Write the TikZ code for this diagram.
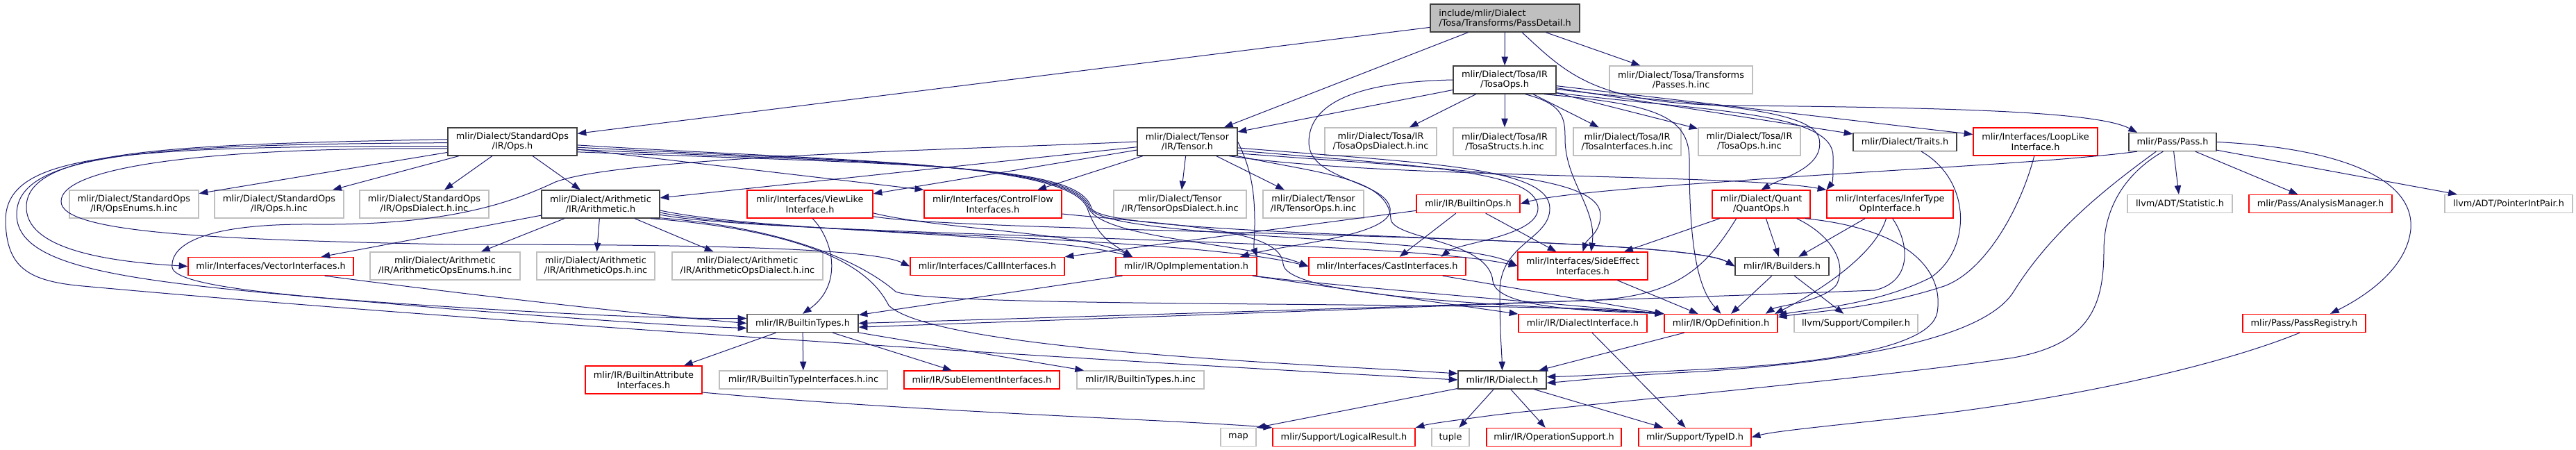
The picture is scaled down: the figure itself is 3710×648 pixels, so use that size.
\documentclass[tikz,border=0pt]{standalone}
\usepackage{fontspec}
\setmainfont{DejaVu Sans}
\usetikzlibrary{arrows.meta}
\definecolor{edgec}{HTML}{191970}
\definecolor{gryc}{HTML}{BFBFBF}
\definecolor{blkc}{HTML}{404040}
\definecolor{redc}{HTML}{FF0000}
\tikzset{
  nd/.style={rectangle, inner sep=0pt, align=center, fill=white, line width=1pt, font=\fontsize{9.65pt}{10.9pt}\selectfont},
  bbox/.style={nd, draw=blkc},
  gbox/.style={nd, draw=gryc},
  rbox/.style={nd, draw=redc},
  sz/.style 2 args={minimum width={#1*0.75pt}, minimum height={#2*0.75pt}},
  ed/.style={draw=edgec, line width=0.75pt, -{Triangle[length=9.5pt,width=7pt]}},
}
\begin{document}
\begin{tikzpicture}[x=0.75pt,y=-0.75pt]
\fill[white] (0,0) rectangle (3710,648);
\useasboundingbox (0,0) rectangle (3710,648);
% row 1
\node[bbox, fill=gryc, align=left, sz={215}{40}] (root) at (2167.5,26) {include/mlir/Dialect\\/Tosa/Transforms/PassDetail.h};
% row 2
\node[bbox, sz={148}{40}] (tosaops) at (2167,115) {mlir/Dialect/Tosa/IR\\/TosaOps.h};
\node[gbox, sz={206}{40}] (passesinc) at (2421,115) {mlir/Dialect/Tosa/Transforms\\/Passes.h.inc};
% row 3
\node[bbox, sz={186}{40}] (ops) at (738,204) {mlir/Dialect/StandardOps\\/IR/Ops.h};
\node[bbox, sz={144}{40}] (tensor) at (1710,204) {mlir/Dialect/Tensor\\/IR/Tensor.h};
\node[gbox, sz={161}{40}] (tosadialect) at (1988.5,204) {mlir/Dialect/Tosa/IR\\/TosaOpsDialect.h.inc};
\node[gbox, sz={148}{40}] (tosastructs) at (2167,204) {mlir/Dialect/Tosa/IR\\/TosaStructs.h.inc};
\node[gbox, sz={155}{40}] (tosaiface) at (2343.5,204) {mlir/Dialect/Tosa/IR\\/TosaInterfaces.h.inc};
\node[gbox, sz={147}{40}] (tosaopsinc) at (2519.5,204) {mlir/Dialect/Tosa/IR\\/TosaOps.h.inc};
\node[bbox, sz={149}{26}] (traits) at (2743.5,204.5) {mlir/Dialect/Traits.h};
\node[rbox, sz={179}{40}] (looplike) at (2931.5,204) {mlir/Interfaces/LoopLike\\Interface.h};
\node[bbox, sz={126}{26}] (pass) at (3129,204.5) {mlir/Pass/Pass.h};
% row 4
\node[gbox, sz={186}{40}] (opsenums) at (193,294) {mlir/Dialect/StandardOps\\/IR/OpsEnums.h.inc};
\node[gbox, sz={186}{40}] (opsinc) at (402,294) {mlir/Dialect/StandardOps\\/IR/Ops.h.inc};
\node[gbox, sz={186}{40}] (opsdialect) at (611,294) {mlir/Dialect/StandardOps\\/IR/OpsDialect.h.inc};
\node[bbox, sz={170}{40}] (arith) at (865,294) {mlir/Dialect/Arithmetic\\/IR/Arithmetic.h};
\node[rbox, sz={181}{40}] (viewlike) at (1166.5,294) {mlir/Interfaces/ViewLike\\Interface.h};
\node[rbox, sz={198}{40}] (controlflow) at (1430,294) {mlir/Interfaces/ControlFlow\\Interfaces.h};
\node[gbox, sz={191}{40}] (tensordialect) at (1699.5,294) {mlir/Dialect/Tensor\\/IR/TensorOpsDialect.h.inc};
\node[gbox, sz={145}{40}] (tensoropsinc) at (1891.5,294) {mlir/Dialect/Tensor\\/IR/TensorOps.h.inc};
\node[rbox, sz={149}{26}] (builtinops) at (2114.5,293.5) {mlir/IR/BuiltinOps.h};
\node[rbox, sz={141}{40}] (quant) at (2536.5,294) {mlir/Dialect/Quant\\/QuantOps.h};
\node[rbox, sz={182}{40}] (infertype) at (2722,294) {mlir/Interfaces/InferType\\OpInterface.h};
\node[gbox, sz={151}{26}] (statistic) at (3139.5,293.5) {llvm/ADT/Statistic.h};
\node[rbox, sz={206}{26}] (analysis) at (3342,293.5) {mlir/Pass/AnalysisManager.h};
\node[gbox, sz={184}{26}] (pointer) at (3613,293.5) {llvm/ADT/PointerIntPair.h};
% row 5
\node[rbox, sz={238}{26}] (vector) at (390,383.5) {mlir/Interfaces/VectorInterfaces.h};
\node[gbox, sz={216}{40}] (arithenums) at (641,383) {mlir/Dialect/Arithmetic\\/IR/ArithmeticOpsEnums.h.inc};
\node[gbox, sz={170}{40}] (arithops) at (858,383) {mlir/Dialect/Arithmetic\\/IR/ArithmeticOps.h.inc};
\node[gbox, sz={217}{40}] (arithdialect) at (1076.5,383) {mlir/Dialect/Arithmetic\\/IR/ArithmeticOpsDialect.h.inc};
\node[rbox, sz={222}{26}] (call) at (1422,383.5) {mlir/Interfaces/CallInterfaces.h};
\node[rbox, sz={203}{26}] (opimpl) at (1708.5,383.5) {mlir/IR/OpImplementation.h};
\node[rbox, sz={226}{26}] (cast) at (1998,383.5) {mlir/Interfaces/CastInterfaces.h};
\node[rbox, sz={187}{40}] (sideeffect) at (2279.5,383) {mlir/Interfaces/SideEffect\\Interfaces.h};
\node[bbox, sz={135}{26}] (builders) at (2566.5,383.5) {mlir/IR/Builders.h};
% row 6
\node[bbox, sz={160}{26}] (btypes) at (1156,465.5) {mlir/IR/BuiltinTypes.h};
\node[rbox, sz={185}{26}] (dialiface) at (2279.5,465.5) {mlir/IR/DialectInterface.h};
\node[rbox, sz={163}{26}] (opdef) at (2478.5,465.5) {mlir/IR/OpDefinition.h};
\node[gbox, sz={178}{26}] (compiler) at (2673,465.5) {llvm/Support/Compiler.h};
\node[rbox, sz={177}{26}] (passreg) at (3318.5,465.5) {mlir/Pass/PassRegistry.h};
% row 7
\node[rbox, sz={168}{40}] (battr) at (927,547) {mlir/IR/BuiltinAttribute\\Interfaces.h};
\node[gbox, sz={242}{26}] (btiface) at (1157,547) {mlir/IR/BuiltinTypeInterfaces.h.inc};
\node[rbox, sz={224}{26}] (subelem) at (1414,547) {mlir/IR/SubElementInterfaces.h};
\node[gbox, sz={183}{26}] (btypesinc) at (1642.5,547) {mlir/IR/BuiltinTypes.h.inc};
\node[bbox, sz={127}{26}] (dialect) at (2163.5,547) {mlir/IR/Dialect.h};
% row 8
\node[gbox, sz={51}{26}] (map) at (1783.5,629.5) {map};
\node[rbox, sz={205}{26}] (logical) at (1935.5,629.5) {mlir/Support/LogicalResult.h};
\node[gbox, sz={54}{26}] (tuple) at (2089,629.5) {tuple};
\node[rbox, sz={194}{26}] (opsupport) at (2238,629.5) {mlir/IR/OperationSupport.h};
\node[rbox, sz={162}{26}] (typeid) at (2441,629.5) {mlir/Support/TypeID.h};

% ---- edges: root
\draw[ed] (root) -- (ops);
\draw[ed] (root) -- (tensor);
\draw[ed] (root) -- (tosaops);
\draw[ed] (root) -- (passesinc);
\draw[ed] (root.-40) .. controls (2260,110) and (2300,150) .. (2500,152) .. controls (2800,155) and (3020,160) .. (pass.165);
% ---- TosaOps
\draw[ed] (tosaops) -- (tensor);
\draw[ed] (tosaops) -- (tosadialect);
\draw[ed] (tosaops) -- (tosastructs);
\draw[ed] (tosaops) -- (tosaiface);
\draw[ed] (tosaops) -- (tosaopsinc);
\draw[ed] (tosaops) -- (traits);
\draw[ed] (tosaops) -- (looplike);
\draw[ed] (tosaops.-10) .. controls (2400,150) and (2610,150) .. (2620,200) .. controls (2628,240) and (2570,255) .. (quant.north);
\draw[ed] (tosaops.-14) .. controls (2450,160) and (2640,160) .. (2640,225) .. controls (2640,250) and (2640,262) .. (infertype.north west);
\draw[ed] (tosaops.-20) .. controls (2380,150) and (2433,165) .. (2433,230) .. controls (2433,330) and (2440,410) .. (opdef.north);
\draw[ed] (tosaops.-35) .. controls (2252,150) and (2254,170) .. (2254,200) .. controls (2254,260) and (2300,300) .. (sideeffect.60);
\draw[ed] (tosaops.west) .. controls (1950,118) and (1885,150) .. (1885,205) .. controls (1885,260) and (1995,260) .. (2002,300) .. controls (2008,340) and (1850,352) .. (opimpl.10);
% ---- StandardOps Ops.h
\draw[ed] (ops) -- (opsenums);
\draw[ed] (ops) -- (opsinc);
\draw[ed] (ops) -- (opsdialect);
\draw[ed] (ops) -- (arith);
\draw[ed] (ops) -- (controlflow.north west);
\draw[ed] (ops.-3) .. controls (1200,232) and (1540,232) .. (1566,300) .. controls (1580,340) and (1600,350) .. (opimpl.170);
\draw[ed] (ops.-5) .. controls (1250,234) and (1545,234) .. (1568,300) .. controls (1590,345) and (1800,350) .. (cast.west);
\draw[ed] (ops.-7) .. controls (1300,236) and (1550,236) .. (1570,300) .. controls (1590,345) and (2100,340) .. (sideeffect.west);
\draw[ed] (ops.-9) .. controls (1350,238) and (1555,238) .. (1572,300) .. controls (1590,345) and (2420,338) .. (builders.west);
\draw[ed] (ops.178) .. controls (250,208) and (35,215) .. (38,300) .. controls (40,365) and (180,378) .. (vector.west);
\draw[ed] (ops.181) .. controls (220,208) and (22,220) .. (24,310) .. controls (26,400) and (250,410) .. (650,445) .. controls (850,460) and (950,468) .. (btypes.185);
\draw[ed] (ops.184) .. controls (150,210) and (6,225) .. (8,320) .. controls (10,385) and (40,405) .. (120,412) .. controls (700,465) and (1600,520) .. (dialect.west);
\draw[ed] (ops.186) .. controls (300,212) and (88,240) .. (88,290) .. controls (88,335) and (300,345) .. (650,352) .. controls (950,352) and (1250,355) .. (call.west);
% ---- Tensor.h
\draw[ed] (tensor) -- (viewlike);
\draw[ed] (tensor) -- (controlflow);
\draw[ed] (tensor) -- (tensordialect);
\draw[ed] (tensor) -- (tensoropsinc);
\draw[ed] (tensor) -- (arith);
\draw[ed] (tensor.west) .. controls (1400,215) and (900,225) .. (800,262) .. controls (740,290) and (650,325) .. (450,323) .. controls (300,322) and (245,350) .. (248,385) .. controls (252,415) and (450,430) .. (700,445) .. controls (900,457) and (1000,459) .. (btypes.175);
\draw[ed] (tensor.-10) .. controls (2050,240) and (2215,245) .. (2215,300) .. controls (2215,340) and (2100,350) .. (cast.10);
\draw[ed] (tensor.-13) .. controls (2100,245) and (2305,250) .. (2305,310) .. controls (2305,335) and (2285,345) .. (sideeffect.north);
\draw[ed] (tensor.-7) .. controls (2050,235) and (2232,240) .. (2232,300) .. controls (2232,345) and (2160,350) .. (2160,420) .. controls (2160,480) and (2163,510) .. (dialect.north);
\draw[ed] (tensor.east) .. controls (1800,240) and (1807,270) .. (1807,320) .. controls (1807,345) and (1805,355) .. (opimpl.north east);
\draw[ed] (tensor.-16) .. controls (1900,250) and (2000,255) .. (2003,315) .. controls (2005,345) and (2145,345) .. (2150,405) .. controls (2155,445) and (2300,448) .. (opdef.north west);
\draw[ed] (tensor.-19) .. controls (2000,258) and (2500,250) .. (infertype.north west);
% ---- Arithmetic.h
\draw[ed] (arith) -- (arithenums);
\draw[ed] (arith) -- (arithops);
\draw[ed] (arith) -- (arithdialect);
\draw[ed] (arith) -- (vector);
\draw[ed] (arith.-6) .. controls (1100,335) and (1500,335) .. (opimpl.170);
\draw[ed] (arith.-8) .. controls (1100,338) and (1700,338) .. (cast.west);
\draw[ed] (arith.-10) .. controls (1100,340) and (2000,342) .. (sideeffect.west);
\draw[ed] (arith.-13) .. controls (1150,330) and (1250,385) .. (1290,420) .. controls (1350,445) and (2200,432) .. (opdef.north west);
\draw[ed] (arith.-16) .. controls (1200,335) and (1260,400) .. (1280,440) .. controls (1350,505) and (1900,525) .. (dialect.172);
% ---- ViewLike, ControlFlow, Vector
\draw[ed] (viewlike.-80) .. controls (1200,345) and (1215,410) .. (btypes.north);
\draw[ed] (viewlike.-8) .. controls (1350,330) and (1560,335) .. (opimpl.170);
\draw[ed] (viewlike.-11) .. controls (1400,336) and (2420,336) .. (builders.west);
\draw[ed] (controlflow.-8) .. controls (1700,325) and (1845,330) .. (1848,380) .. controls (1852,430) and (2200,440) .. (opdef.north west);
\draw[ed] (vector.-10) .. controls (700,428) and (950,455) .. (btypes.west);
% ---- OpImplementation
\draw[ed] (opimpl) -- (btypes);
\draw[ed] (opimpl) -- (dialiface);
\draw[ed] (opimpl.-8) .. controls (1900,410) and (2250,438) .. (opdef.north west);
% ---- BuiltinOps
\draw[ed] (builtinops) -- (call.north east);
\draw[ed] (builtinops) -- (cast);
\draw[ed] (builtinops) -- (sideeffect);
% ---- Quant
\draw[ed] (quant) -- (builders);
\draw[ed] (quant) -- (sideeffect);
\draw[ed] (quant.-150) .. controls (2460,380) and (2420,425) .. (2300,432) .. controls (1900,448) and (1400,465) .. (btypes.-4);
\draw[ed] (quant.-18) .. controls (2750,330) and (2800,390) .. (2790,450) .. controls (2780,505) and (2600,525) .. (2450,532) .. controls (2330,538) and (2270,542) .. (dialect.4);
\draw[ed] (quant.-22) .. controls (2640,340) and (2660,380) .. (2645,410) .. controls (2625,435) and (2560,440) .. (opdef.12);
% ---- InferType
\draw[ed] (infertype) -- (builders);
\draw[ed] (infertype.-105) .. controls (2700,370) and (2610,425) .. (opdef.10);
\draw[ed] (infertype.-80) .. controls (2750,350) and (2755,405) .. (2700,418) .. controls (2400,430) and (1600,455) .. (btypes.east);
% ---- Traits, LoopLike
\draw[ed] (traits.-30) .. controls (2840,260) and (2840,360) .. (2780,400) .. controls (2700,440) and (2600,446) .. (opdef.8);
\draw[ed] (looplike.-95) .. controls (2910,300) and (2860,390) .. (2800,412) .. controls (2700,445) and (2600,450) .. (opdef.6);
% ---- Pass.h
\draw[ed] (pass) -- (statistic);
\draw[ed] (pass) -- (analysis);
\draw[ed] (pass) -- (pointer);
\draw[ed] (pass.-165) .. controls (2950,235) and (2700,245) .. (2480,262) .. controls (2330,272) and (2230,282) .. (builtinops.east);
\draw[ed] (pass.-150) .. controls (3020,280) and (2950,340) .. (2900,420) .. controls (2850,500) and (2600,525) .. (2450,535) .. controls (2330,541) and (2270,548) .. (dialect.-4);
\draw[ed] (pass.-135) .. controls (3060,250) and (3030,300) .. (3030,360) .. controls (3030,440) and (3010,495) .. (2900,515) .. controls (2700,545) and (2300,580) .. (2150,598) .. controls (2090,606) and (2060,610) .. (logical.north east);
\draw[ed] (pass.east) .. controls (3350,212) and (3478,250) .. (3472,330) .. controls (3466,390) and (3400,430) .. (passreg.20);
% ---- lower part
\draw[ed] (builders) -- (opdef);
\draw[ed] (builders) -- (compiler);
\draw[ed] (cast) -- (opdef.north west);
\draw[ed] (sideeffect) -- (opdef);
\draw[ed] (opdef) -- (dialect);
\draw[ed] (dialiface) -- (typeid);
\draw[ed] (btypes) -- (battr);
\draw[ed] (btypes) -- (btiface);
\draw[ed] (btypes) -- (subelem);
\draw[ed] (btypes) -- (btypesinc);
\draw[ed] (battr.-12) .. controls (1300,592) and (1700,605) .. (logical.north west);
\draw[ed] (dialect) -- (map.north east);
\draw[ed] (dialect) -- (tuple);
\draw[ed] (dialect) -- (opsupport);
\draw[ed] (dialect) -- (typeid);
\draw[ed] (passreg.-115) .. controls (3200,525) and (3000,570) .. (2800,595) .. controls (2650,612) and (2560,620) .. (typeid.east);
\end{tikzpicture}
\end{document}
